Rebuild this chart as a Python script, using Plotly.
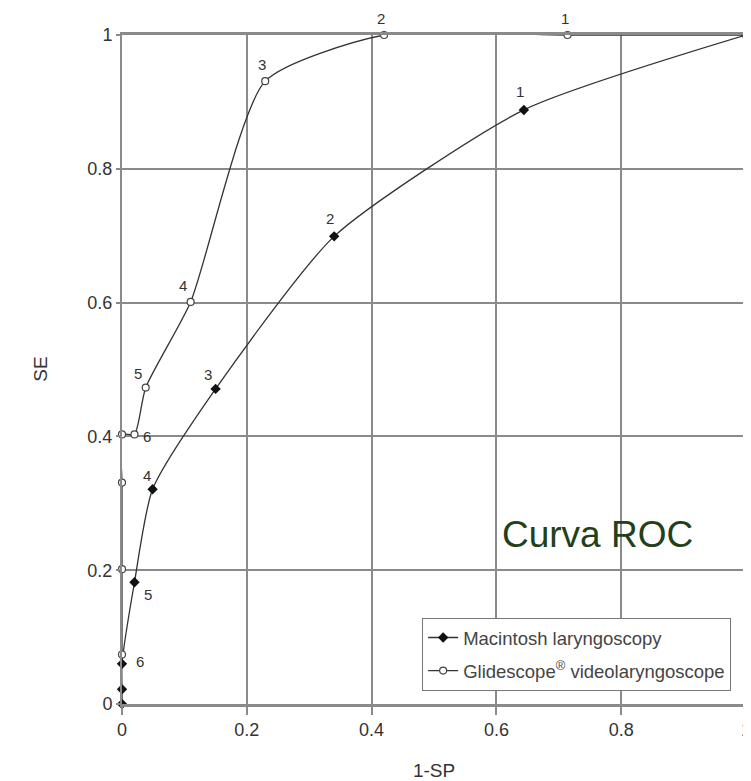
import plotly.graph_objects as go

# Macintosh laryngoscopy
mac_x = [0, 0, 0, 0.02, 0.049, 0.15, 0.34, 0.644, 1.0]
mac_y = [0, 0.022, 0.06, 0.182, 0.321, 0.471, 0.699, 0.888, 1.0]
mac_lbl = ["", "", "6", "5", "4", "3", "2", "1", ""]
mac_lbl_shift = [(0, 0), (0, 0), (18, 2), (14, -12), (-6, 14), (-8, 14), (-4, 18), (-4, 18), (0, 0)]

# Glidescope videolaryngoscope
gli_x = [0, 0, 0, 0, 0.02, 0.038, 0.11, 0.2295, 0.42, 0.714, 1.0]
gli_y = [0.074, 0.2016, 0.331, 0.403, 0.403, 0.473, 0.601, 0.931, 1.0, 1.0, 1.0]
gli_lbl = ["", "", "", "", "6", "5", "4", "3", "2", "1", ""]
gli_lbl_shift = [(0, 0), (0, 0), (0, 0), (0, 0), (13, -2), (-8, 14), (-8, 16), (-3, 17), (-3, 17), (-3, 17), (0, 0)]

xticks = [0, 0.2, 0.4, 0.6, 0.8, 1]
xtick_text = ["0", "0.2", "0.4", "0.6", "0.8", "1"]
yticks = [0, 0.2, 0.4, 0.6, 0.8, 1]
ytick_text = ["0", "0.2", "0.4", "0.6", "0.8", "1"]

line_col = "#333333"
grid_col = "#8a8a8a"
FONT = "Liberation Sans, Arial"

fig = go.Figure()
fig.add_trace(go.Scatter(
    x=mac_x, y=mac_y, mode="lines+markers", name="Macintosh laryngoscopy",
    legendgroup="mac",
    line=dict(color=line_col, width=1.3, shape="spline", smoothing=0.6),
    marker=dict(symbol="diamond", size=8, color="#111111", line=dict(width=0)),
    cliponaxis=False,
))
fig.add_trace(go.Scatter(
    x=gli_x, y=gli_y, mode="lines+markers", name="Glidescope<sup>®</sup> videolaryngoscope",
    legendgroup="gli",
    line=dict(color=line_col, width=1.3, shape="spline", smoothing=0.6),
    marker=dict(symbol="circle", size=7, color="white", line=dict(color="#444444", width=1.2)),
    cliponaxis=False,
))

annots = []
for xs, ys, ls, sh in [(mac_x, mac_y, mac_lbl, mac_lbl_shift), (gli_x, gli_y, gli_lbl, gli_lbl_shift)]:
    for xv, yv, lv, (dx, dy) in zip(xs, ys, ls, sh):
        if lv:
            annots.append(dict(x=xv, y=yv, text=lv, showarrow=False, xshift=dx, yshift=dy,
                               font=dict(size=15, color="#333333", family=FONT)))
annots.append(dict(x=0.606, y=0.254, xanchor="left", yanchor="middle", text="Curva ROC", showarrow=False,
                   font=dict(size=37, color="#22401a", family=FONT)))
annots.append(dict(xref="paper", yref="paper", x=-0.131, y=0.5, xanchor="center", yanchor="middle",
                   text="SE", textangle=-90, showarrow=False,
                   font=dict(size=19, color="#333333", family=FONT)))

fig.update_layout(
    width=743, height=773,
    margin=dict(l=114, r=5, t=27, b=77),
    paper_bgcolor="white", plot_bgcolor="white",
    font=dict(family=FONT, color="#333333", size=18),
    showlegend=True,
    legend=dict(x=0.481, y=0.0195, xanchor="left", yanchor="bottom",
                bordercolor="#777777", borderwidth=1, bgcolor="white",
                font=dict(size=18.5, color="#444444"), tracegroupgap=6),
    annotations=annots,
    xaxis=dict(range=[0, 1], tickvals=xticks, ticktext=xtick_text, automargin=False,
               ticklabeloverflow="allow",
               showgrid=True, gridcolor=grid_col, gridwidth=1.5,
               zeroline=False, showline=True, linecolor=grid_col, linewidth=2.5, mirror=True,
               ticks="outside", ticklen=8, tickcolor=grid_col, tickwidth=1.5,
               title=dict(text="1-SP", font=dict(size=19), standoff=26)),
    yaxis=dict(range=[0, 1], tickvals=yticks, ticktext=ytick_text, automargin=False,
               showgrid=True, gridcolor=grid_col, gridwidth=1.5,
               zeroline=False, showline=True, linecolor=grid_col, linewidth=2, mirror=True,
               ticks="outside", ticklen=4, tickcolor=grid_col, tickwidth=1.5),
)

fig.write_html("out.html")
